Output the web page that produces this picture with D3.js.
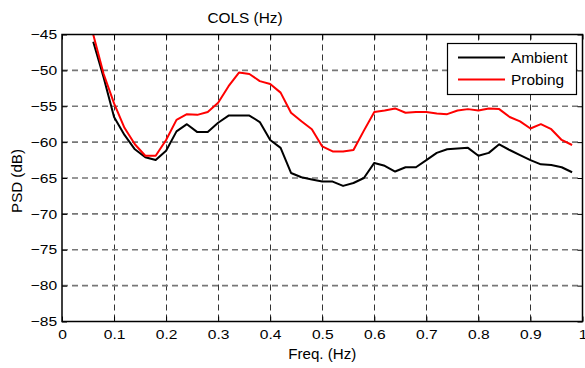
<!DOCTYPE html>
<html>
<head>
<meta charset="utf-8">
<script src="https://cdn.jsdelivr.net/npm/d3@7/dist/d3.min.js"></script>
<style>
  body { margin: 0; background: #fff; }
  text { font-family: "Liberation Sans", Arial, sans-serif; }
</style>
</head>
<body>
<div id="chart"></div>
<script>
var freq = [0.06, 0.08, 0.10, 0.12, 0.14, 0.16, 0.18, 0.20, 0.22, 0.24,
            0.26, 0.28, 0.30, 0.32, 0.34, 0.36, 0.38, 0.40, 0.42, 0.44,
            0.46, 0.48, 0.50, 0.52, 0.54, 0.56, 0.58, 0.60, 0.62, 0.64,
            0.66, 0.68, 0.70, 0.72, 0.74, 0.76, 0.78, 0.80, 0.82, 0.84,
            0.86, 0.88, 0.90, 0.92, 0.94, 0.96, 0.98];

var ambient = [-46.0, -51.0, -56.5, -59.0, -61.0, -62.1, -62.5, -61.2, -58.5, -57.5,
               -58.6, -58.6, -57.3, -56.3, -56.3, -56.3, -57.2, -59.7, -60.8, -64.3,
               -64.9, -65.2, -65.5, -65.5, -66.1, -65.7, -65.0, -62.9, -63.3, -64.1,
               -63.5, -63.5, -62.5, -61.5, -61.0, -60.9, -60.8, -61.9, -61.5, -60.3,
               -61.1, -61.8, -62.5, -63.1, -63.2, -63.5, -64.2];

var probing = [-45.0, -50.5, -54.6, -58.0, -60.3, -61.9, -61.9, -59.7, -56.9, -56.1,
               -56.2, -55.8, -54.5, -52.2, -50.3, -50.5, -51.5, -51.9, -53.1, -55.9,
               -57.1, -58.2, -60.6, -61.3, -61.3, -61.1, -58.4, -55.8, -55.6, -55.3,
               -55.9, -55.8, -55.8, -56.0, -56.1, -55.6, -55.4, -55.6, -55.3, -55.4,
               -56.5, -57.1, -58.1, -57.5, -58.2, -59.7, -60.4];

var xTicks = [0, 0.1, 0.2, 0.3, 0.4, 0.5, 0.6, 0.7, 0.8, 0.9, 1];
var yTicks = [-85, -80, -75, -70, -65, -60, -55, -50, -45];
var seriesNames = ["Ambient", "Probing"];
var seriesColors = ["#000000", "#ff0000"];

var width = 585;
var height = 368;
var padding = {top: 34.5, right: 2.5, bottom: 46.5, left: 62};

var svg = d3.select("#chart").append("svg").attr("width", width).attr("height", height);

var x = d3.scaleLinear().domain([0, 1]).range([padding.left, width - padding.right]);
var y = d3.scaleLinear().domain([-85, -45]).range([height - padding.bottom, padding.top]);

// grid
svg.append("g").selectAll("line")
    .data(xTicks.slice(1, -1))
    .enter()
    .append("line")
    .attr("x1", function (d) { return Math.round(x(d)) + 0.5; })
    .attr("x2", function (d) { return Math.round(x(d)) + 0.5; })
    .attr("y1", y(-45))
    .attr("y2", y(-85))
    .attr("stroke", "#333")
    .attr("stroke-width", 1)
    .attr("stroke-dasharray", "6,4");

svg.append("g").selectAll("line")
    .data(yTicks.slice(1, -1))
    .enter()
    .append("line")
    .attr("x1", x(0))
    .attr("x2", x(1))
    .attr("y1", function (d) { return y(d); })
    .attr("y2", function (d) { return y(d); })
    .attr("stroke", "#777")
    .attr("stroke-width", 1.6)
    .attr("stroke-dasharray", "6,4");

// curves
var line = d3.line()
    .x(function (d) { return x(d[0]); })
    .y(function (d) { return y(d[1]); });

[ambient, probing].forEach(function (vals, k) {
    svg.append("path")
        .datum(d3.zip(freq, vals))
        .attr("fill", "none")
        .attr("stroke", seriesColors[k])
        .attr("stroke-width", 2)
        .attr("stroke-linejoin", "round")
        .attr("d", line);
});

// axes
var fmtX = function (d) { return d === 0 || d === 1 ? String(d) : d3.format(".1f")(d); };

svg.append("g")
    .attr("transform", "translate(0," + y(-85) + ")")
    .call(d3.axisBottom(x).tickValues(xTicks).tickFormat(fmtX).tickSizeInner(-5).tickSizeOuter(0).tickPadding(8))
    .call(function (g) { g.select(".domain").remove(); })
    .selectAll("text")
    .attr("font-size", "13px")
    .attr("fill", "#000")
    .attr("font-family", "Liberation Sans, Arial, sans-serif")
    .attr("transform", "scale(1.2,1)");

svg.append("g")
    .attr("transform", "translate(0," + y(-45) + ")")
    .call(d3.axisTop(x).tickValues(xTicks).tickFormat("").tickSizeInner(-5).tickSizeOuter(0))
    .call(function (g) { g.select(".domain").remove(); });

svg.append("g")
    .attr("transform", "translate(" + x(0) + ",0)")
    .call(d3.axisLeft(y).tickValues(yTicks).tickSizeInner(-5).tickSizeOuter(0).tickPadding(4))
    .call(function (g) { g.select(".domain").remove(); })
    .selectAll("text")
    .attr("font-size", "13px")
    .attr("fill", "#000")
    .attr("font-family", "Liberation Sans, Arial, sans-serif")
    .attr("transform", "scale(1.2,1)");

svg.append("g")
    .attr("transform", "translate(" + x(1) + ",0)")
    .call(d3.axisRight(y).tickValues(yTicks).tickFormat("").tickSizeInner(-5).tickSizeOuter(0))
    .call(function (g) { g.select(".domain").remove(); });

svg.append("rect")
    .attr("x", x(0))
    .attr("y", y(-45))
    .attr("width", x(1) - x(0))
    .attr("height", y(-85) - y(-45))
    .attr("fill", "none")
    .attr("stroke", "#000")
    .attr("stroke-width", 1.5);

// labels
svg.append("text")
    .attr("transform", "translate(245,22.5) scale(1.1,1)")
    .attr("text-anchor", "middle")
    .attr("font-size", "14px")
    .text("COLS (Hz)");

svg.append("text")
    .attr("transform", "translate(" + ((x(0) + x(1)) / 2) + ",359) scale(1.08,1)")
    .attr("text-anchor", "middle")
    .attr("font-size", "14px")
    .text("Freq. (Hz)");

svg.append("text")
    .attr("transform", "translate(22,181) rotate(-90) scale(1.08,1)")
    .attr("text-anchor", "middle")
    .attr("font-size", "14px")
    .text("PSD (dB)");

// legend
var legend = svg.append("g");
legend.append("rect")
    .attr("x", 447.5)
    .attr("y", 43.5)
    .attr("width", 129)
    .attr("height", 51)
    .attr("fill", "#fff")
    .attr("stroke", "#000")
    .attr("stroke-width", 1.2);

var item = legend.selectAll(".item")
    .data(seriesNames)
    .enter()
    .append("g")
    .attr("class", "item")
    .attr("transform", function (d, i) { return "translate(0," + (57.5 + i * 22) + ")"; });

item.append("line")
    .attr("x1", 458)
    .attr("x2", 505)
    .attr("stroke", function (d, i) { return seriesColors[i]; })
    .attr("stroke-width", 2);

item.append("text")
    .attr("transform", "translate(511,0) scale(1.1,1)")
    .attr("dy", "0.36em")
    .attr("font-size", "14px")
    .text(function (d) { return d; });
</script>
</body>
</html>
